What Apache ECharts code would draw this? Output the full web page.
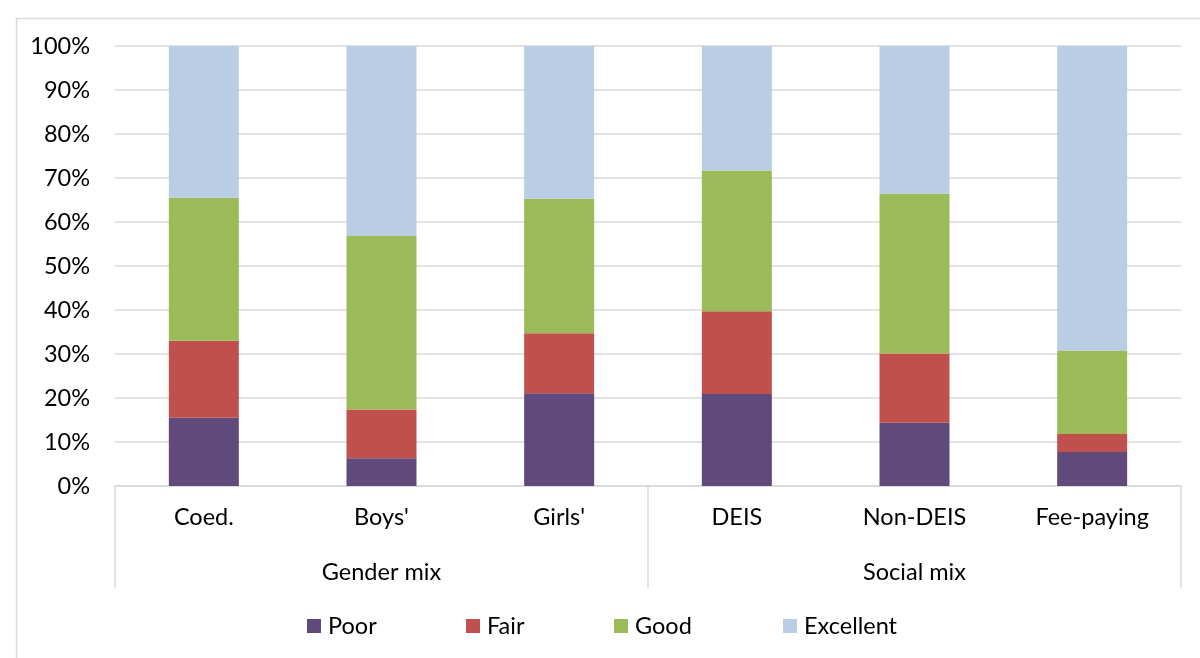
<!DOCTYPE html>
<html>
<head>
<meta charset="utf-8">
<script src="https://cdn.jsdelivr.net/npm/echarts@6/dist/echarts.min.js"></script>
<style>
  html, body { margin: 0; padding: 0; background: #fff; }
  #main { width: 1200px; height: 658px; }
</style>
</head>
<body>
<div id="main"></div>
<script>
// categories (inner level) and groups (outer level)
var categories = ['Coed.', "Boys'", "Girls'", 'DEIS', 'Non-DEIS', 'Fee-paying'];
var groups = ['Gender mix', 'Social mix'];
var levels = ['Poor', 'Fair', 'Good', 'Excellent'];

// shares in %
var poor      = [15.5,  6.3, 21.1, 20.9, 14.4,  7.7];
var fair      = [17.5, 11.1, 13.6, 18.8, 15.7,  4.1];
var good      = [32.5, 39.4, 30.6, 32.0, 36.3, 19.0];
var excellent = [34.5, 43.2, 34.7, 28.3, 33.6, 69.2];

var font = 'Lato, "Noto Sans", sans-serif';
var gridColor = '#D9D9D9';
var fs = 23.5;

var myChart = echarts.init(document.getElementById('main'));

function bar(name, data, color) {
  return {
    name: name,
    type: 'bar',
    stack: 'total',
    barWidth: 70,
    xAxisIndex: 0,
    itemStyle: { color: color },
    data: data
  };
}

// one legend per entry, Excel spaces them unevenly
var legendLeft = [302, 461, 609, 778];
var legends = levels.map(function (name, i) {
  return {
    bottom: 15,
    left: legendLeft[i],
    itemWidth: 14,
    itemHeight: 14,
    itemGap: 0,
    icon: 'rect',
    textStyle: { fontFamily: font, fontSize: fs, color: '#000', padding: [0, 0, 0, 2] },
    data: [name]
  };
});

var option = {
  backgroundColor: '#fff',
  animation: false,
  textStyle: { fontFamily: font },
  graphic: [{
    type: 'rect',
    left: 14, top: 16,
    shape: { width: 1220, height: 700 },
    style: { fill: 'none', stroke: gridColor, lineWidth: 1.5 },
    silent: true
  }],
  grid: { left: 115, right: 19, top: 46, bottom: 172 },
  legend: legends,
  xAxis: [{
    type: 'category',
    data: categories,
    axisLine: { lineStyle: { color: gridColor, width: 1.5 } },
    axisTick: { show: false },
    axisLabel: { color: '#000', fontSize: fs, fontFamily: font, margin: 19 }
  }, {
    type: 'category',
    data: groups,
    position: 'bottom',
    axisLine: { show: false },
    axisTick: { show: true, length: 102, lineStyle: { color: gridColor, width: 1.5 } },
    axisLabel: { color: '#000', fontSize: fs, fontFamily: font, margin: 74 },
    splitLine: { show: false }
  }],
  yAxis: {
    type: 'value',
    min: 0,
    max: 100,
    interval: 10,
    axisLine: { show: false },
    axisTick: { show: false },
    axisLabel: { formatter: '{value}%', color: '#000', fontSize: fs, fontFamily: font, margin: 25 },
    splitLine: { lineStyle: { color: gridColor, width: 1.5 } }
  },
  series: [
    bar('Poor', poor, '#604A7B'),
    bar('Fair', fair, '#C0504D'),
    bar('Good', good, '#9BBB59'),
    bar('Excellent', excellent, '#B9CDE5')
  ]
};

myChart.setOption(option);
</script>
</body>
</html>
